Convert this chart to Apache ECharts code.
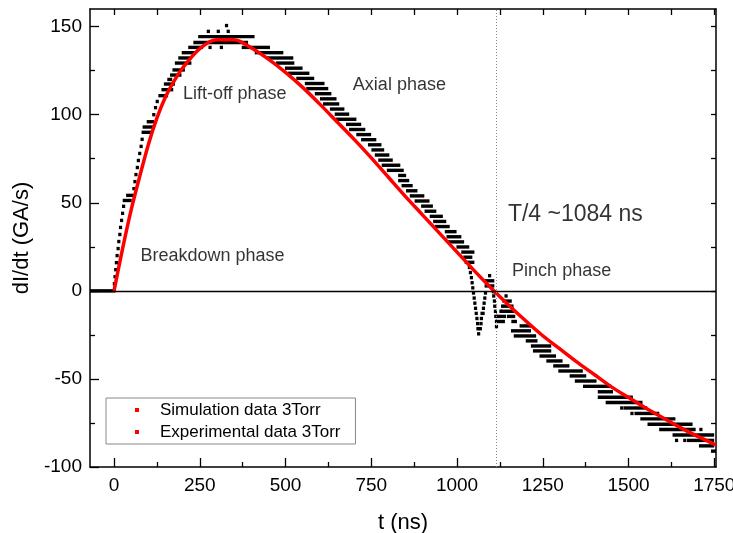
<!DOCTYPE html>
<html>
<head>
<meta charset="utf-8">
<script src="https://cdn.jsdelivr.net/npm/echarts@6/dist/echarts.min.js"></script>
<style>
  html, body { margin: 0; padding: 0; background: #fff; }
  #chart { width: 733px; height: 533px; }
</style>
</head>
<body>
<div id="chart"></div>
<script>
// axis ranges and ticks
var xMin = -70, xMax = 1755;
var yMin = -100, yMax = 160;
var xMajor = [0, 250, 500, 750, 1000, 1250, 1500, 1750];
var xMinor = [125, 375, 625, 875, 1125, 1375, 1625];
var xTop = [0, 125, 250, 375, 500, 625, 750, 875, 1000, 1125, 1250, 1375, 1500, 1625, 1750];
var yMajor = [-100, -50, 0, 50, 100, 150];
var yMinor = [-75, -25, 25, 75, 125];
var yRight = [-75, -50, -25, 0, 25, 50, 75, 100, 125, 150];

// simulation curve (red)
var simT = [0, 25, 50, 75, 100, 125, 150, 175, 200, 250, 300, 350, 400, 450, 500, 550, 600, 650, 700,
  750, 800, 850, 900, 950, 1000, 1050, 1100, 1150, 1200, 1250, 1300, 1350, 1400, 1450, 1500, 1550,
  1600, 1650, 1700, 1755];
var simV = [0, 24, 46, 65, 83, 98, 110, 119, 126.5, 137.5, 142.5, 142.5, 138, 131.5, 124, 115.5, 106, 96, 86,
  75.5, 64.5, 53.5, 43, 32.5, 22, 11.5, 1.5, -8, -17, -25.5, -33, -40.5, -47.5, -54.5, -60.5, -66.5,
  -72, -77.5, -82.5, -87.5];

// experimental record: runs of equal samples [t start, t end, value]
var expRuns = [
  [-70, 0, 0],
  [1, 1, 4], [3, 3, 8], [5, 5, 12], [7, 7, 16], [9, 9, 20], [12, 12, 24], [14, 14, 28], [17, 17, 32],
  [19, 19, 36], [22, 22, 40], [25, 25, 44], [28, 28, 48],
  [30, 47, 51.3], [40, 56, 54.2], [58, 58, 58], [61, 61, 62], [64, 64, 66], [68, 68, 70], [71, 71, 74],
  [75, 75, 78], [79, 79, 82], [82, 82, 86], [85, 108, 90], [88, 110, 93], [100, 112, 96], [116, 116, 100],
  [121, 121, 104], [126, 126, 107.5], [134, 153, 110.8], [143, 168, 114.2], [150, 173, 117.4],
  [160, 165, 120], [168, 192, 122.5], [175, 202, 125.4], [182, 221, 129.3], [192, 221, 132.2],
  [202, 231, 135.2], [221, 255, 138.2], [236, 386, 141], [250, 405, 144.3],
  [275, 275, 147.3], [304, 304, 147.3], [333, 333, 147.3], [328, 328, 150.6], [280, 280, 138.2], [313, 313, 138.2],
  [377, 450, 138.2], [415, 489, 135.2], [450, 518, 132.2], [477, 521, 129.3], [503, 545, 126.4],
  [512, 565, 123.5], [536, 579, 120.6], [561, 609, 117.7], [565, 620, 114.8], [590, 629, 111.9],
  [605, 644, 109], [614, 652, 106.1], [634, 667, 103.2], [648, 681, 100.3], [652, 702, 97.4],
  [681, 716, 94.5], [690, 728, 91.6], [711, 745, 88.7], [725, 760, 85.8], [745, 775, 82.9],
  [755, 783, 80], [765, 798, 77.1], [775, 808, 74.2], [785, 830, 71.3], [800, 840, 68.4],
  [833, 847, 65.5], [833, 856, 62.6], [843, 866, 59.7], [856, 880, 56.8], [867, 900, 53.9],
  [881, 915, 51], [900, 925, 48.1], [910, 935, 45.2], [925, 954, 42.3], [935, 964, 39.4],
  [940, 974, 36.5], [969, 994, 33.6], [974, 1008, 30.7], [978, 1016, 27.8], [1003, 1031, 24.9],
  [1017, 1046, 22], [1023, 1040, 19.1], [1027, 1046, 16.2], [1036, 1036, 13.3], [1039, 1039, 10.4],
  [1042, 1042, 7.5], [1044, 1044, 4.6], [1046, 1046, 1.7], [1048, 1048, -1.2], [1050, 1050, -4.1],
  [1052, 1052, -7], [1054, 1054, -9.9], [1056, 1056, -12.8], [1058, 1058, -15.7], [1060, 1060, -18.6],
  [1061, 1061, -21.5], [1063, 1063, -24.4], [1068, 1068, -21.5], [1070, 1070, -18.6], [1071, 1071, -15.7],
  [1073, 1076, -12.8], [1077, 1077, -9.9], [1079, 1079, -7], [1081, 1081, -4.1], [1083, 1083, -1.2],
  [1085, 1104, 2.8], [1085, 1104, 5.7], [1095, 1095, 8.6],
  [1106, 1106, -0.5], [1107, 1107, -2.9], [1109, 1109, -5.8], [1110, 1110, -8.7], [1112, 1112, -11.6],
  [1113, 1113, -14.5], [1115, 1135, -17.4], [1115, 1115, -20.3], [1120, 1138, -14.5],
  [1128, 1128, -11.6], [1133, 1133, -8.7], [1137, 1155, -5.8], [1143, 1143, -2.9], [1140, 1160, -8.7],
  [1133, 1163, -11.6], [1150, 1165, -14.5], [1163, 1170, -17.4], [1187, 1211, -19.9], [1162, 1211, -22.7],
  [1170, 1226, -25.6], [1205, 1230, -28.4], [1220, 1270, -31.3], [1226, 1270, -34.1], [1245, 1284, -37],
  [1265, 1303, -39.8], [1285, 1323, -42.6], [1300, 1362, -45.5], [1333, 1372, -48.3], [1348, 1402, -51.2],
  [1372, 1445, -54.2], [1415, 1450, -57.3], [1415, 1508, -60.4], [1438, 1536, -63.4], [1480, 1480, -66.5],
  [1490, 1550, -66.5], [1510, 1510, -69.6], [1522, 1585, -69.6], [1539, 1632, -72.7], [1560, 1682, -75.7],
  [1594, 1691, -78.7], [1711, 1711, -78.7], [1633, 1745, -81.8], [1640, 1640, -84.9], [1664, 1664, -84.9],
  [1675, 1745, -84.9], [1710, 1745, -88], [1745, 1755, -91]
];

// quarter period marker and annotations
var quarterT = 1115;
var phaseText = ['Lift-off phase', 'Axial phase', 'Breakdown phase', 'Pinch phase'];
var phaseT = [352, 832, 287, 1305];
var phaseV = [112, 117, 20, 11.5];
var periodText = 'T/4 ~1084 ns';
var periodT = 1345, periodV = 43;

var FONT = '"Liberation Sans", Arial, sans-serif';

var chart = echarts.init(document.getElementById('chart'));

function plainAxis(pos, min, max, ticks, len) {
  return {
    type: 'value', position: pos, min: min, max: max,
    axisLine: { show: true, onZero: false, lineStyle: { color: '#000', width: 1.5 } },
    axisTick: { show: true, inside: true, length: len, customValues: ticks, lineStyle: { color: '#000', width: 1.3 } },
    axisLabel: { show: false },
    splitLine: { show: false }
  };
}

function plainNumber(v) { return String(v); }

var xBottom = plainAxis('bottom', xMin, xMax, xMajor, 9);
xBottom.axisLabel = { show: true, customValues: xMajor, formatter: plainNumber, color: '#000', fontSize: 19, fontFamily: FONT, margin: 9 };
xBottom.name = 't (ns)';
xBottom.nameLocation = 'middle';
xBottom.nameGap = 45;
xBottom.nameTextStyle = { color: '#000', fontSize: 22, fontFamily: FONT };

var yLeft = plainAxis('left', yMin, yMax, yMajor, 9);
yLeft.axisLabel = { show: true, customValues: yMajor, formatter: plainNumber, color: '#000', fontSize: 19, fontFamily: FONT, margin: 8 };
yLeft.name = 'dI/dt (GA/s)';
yLeft.nameLocation = 'middle';
yLeft.nameGap = 55;
yLeft.nameTextStyle = { color: '#000', fontSize: 22, fontFamily: FONT };

var xBottomMinor = plainAxis('bottom', xMin, xMax, xMinor, 5);
xBottomMinor.axisLine.show = false;
var yLeftMinor = plainAxis('left', yMin, yMax, yMinor, 5);
yLeftMinor.axisLine.show = false;

var option = {
  animation: false,
  backgroundColor: '#fff',
  grid: { left: 90, right: 17, top: 9, bottom: 66, containLabel: false, outerBoundsMode: 'none' },
  xAxis: [xBottom, xBottomMinor, plainAxis('top', xMin, xMax, xTop, 6)],
  yAxis: [yLeft, yLeftMinor, plainAxis('right', yMin, yMax, yRight, 5)],
  legend: {
    orient: 'vertical',
    left: 106, top: 398,
    padding: [3, 15, 3, 29],
    itemGap: 4,
    itemWidth: 4, itemHeight: 4,
    borderColor: '#888', borderWidth: 1,
    selectedMode: false,
    textStyle: { color: '#000', fontSize: 17, fontFamily: FONT, lineHeight: 18, padding: [0, 0, 0, 16] },
    data: [
      { name: 'Simulation data 3Torr', icon: 'rect', itemStyle: { color: '#ff0000' } },
      { name: 'Experimental data 3Torr', icon: 'rect', itemStyle: { color: '#ff0000' } }
    ]
  },
  series: [
    {
      name: 'Experimental data 3Torr',
      type: 'custom',
      xAxisIndex: 0, yAxisIndex: 0,
      clip: true,
      z: 3,
      encode: { x: [0, 1], y: 2 },
      data: expRuns,
      renderItem: function (params, api) {
        var a = api.coord([api.value(0), api.value(2)]);
        var b = api.coord([api.value(1), api.value(2)]);
        return {
          type: 'rect',
          shape: { x: a[0] - 1.6, y: a[1] - 1.7, width: b[0] - a[0] + 3.2, height: 3.4 },
          style: { fill: '#000' }
        };
      }
    },
    {
      name: 'Simulation data 3Torr',
      type: 'line',
      xAxisIndex: 0, yAxisIndex: 0,
      z: 4,
      symbol: 'none',
      smooth: 0.3,
      lineStyle: { color: '#ff0000', width: 3.5 },
      itemStyle: { color: '#ff0000' },
      data: simT.map(function (t, i) { return [t, simV[i]]; }),
      markLine: {
        silent: true,
        symbol: ['none', 'none'],
        label: { show: false },
        data: [
          { yAxis: 0, lineStyle: { color: '#000', width: 1.3, type: 'solid' } },
          { xAxis: quarterT, lineStyle: { color: '#888', width: 1, type: [1, 2] } }
        ]
      }
    },
    {
      name: 'notes',
      type: 'scatter',
      xAxisIndex: 0, yAxisIndex: 0,
      symbolSize: 1,
      itemStyle: { color: 'rgba(0,0,0,0)' },
      z: 5,
      label: {
        show: true, position: 'inside', color: '#000', fontSize: 18, fontFamily: FONT,
        formatter: function (p) { return p.name; }
      },
      data: phaseText.map(function (s, i) {
        return { name: s, value: [phaseT[i], phaseV[i]] };
      }).concat([{ name: periodText, value: [periodT, periodV], label: { fontSize: 23 } }])
    }
  ]
};

chart.setOption(option);
</script>
</body>
</html>
